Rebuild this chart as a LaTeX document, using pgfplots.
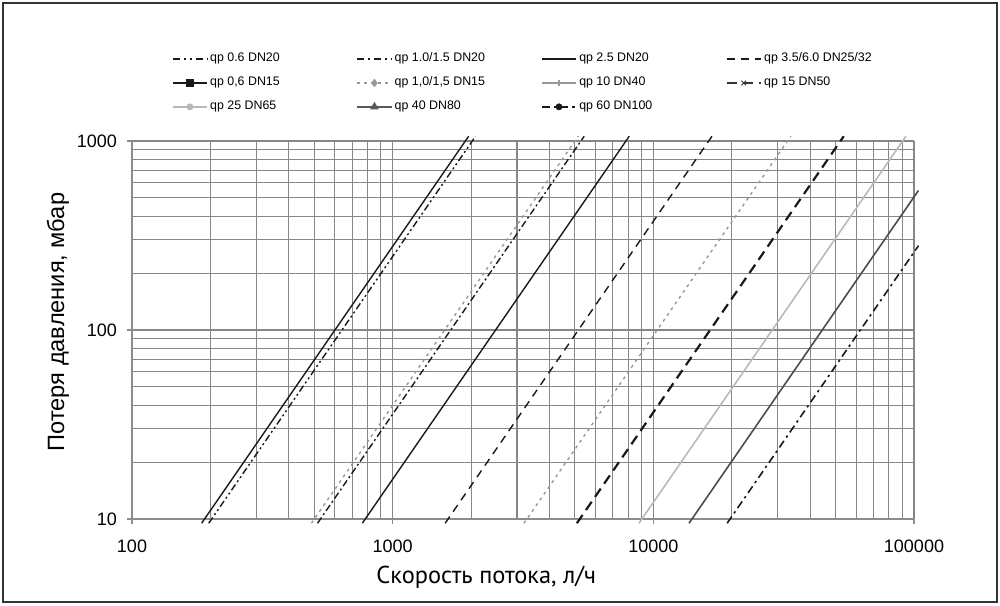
\documentclass[border=0pt]{standalone}
\usepackage{fontspec}
\setmainfont{Liberation Sans}
\newfontfamily\xlabfont{PT Sans}
\usepackage{pgfplots}
\pgfplotsset{compat=1.18}
\begin{document}
\begin{tikzpicture}
\useasboundingbox (0,0) rectangle (500pt,302.5pt);
\draw[line width=0.75pt, black!80] (1.5pt,1.5pt) rectangle (498.5pt,301pt);
\begin{axis}[
  at={(66pt,43pt)}, anchor=south west,
  scale only axis, width=391pt, height=189pt,
  xmode=log, ymode=log,
  xmin=100, xmax=100000, ymin=10, ymax=1000,
  xtick={100,1000,10000,100000}, xticklabels={100,1000,10000,100000},
  ytick={10,100,1000}, yticklabels={10,100,1000},
  minor xtick={200,300,400,500,600,700,800,900,2000,3000,4000,5000,6000,7000,8000,9000,20000,30000,40000,50000,60000,70000,80000,90000},
  minor ytick={20,30,40,50,60,70,80,90,200,300,400,500,600,700,800,900},
  grid=both,
  major grid style={gray!95, line width=0.55pt},
  minor grid style={gray!95, line width=0.55pt},
  axis x line*=bottom, axis y line*=left,
  axis line style={gray!90, line width=0.6pt, -},
  tick style={gray!90, line width=0.6pt},
  tick align=outside, major tick length=2.5pt, minor tick length=0pt,
  tick label style={font=\fontsize{9}{10}\selectfont},
  xticklabel style={yshift=-4.5pt},
  yticklabel style={xshift=-1.5pt},
  xlabel={\xlabfont Скорость потока, л/ч},
  ylabel={Потеря давления, мбар},
  xlabel style={at={(axis description cs:0.453,-0.153)}, anchor=center, font=\fontsize{12.2}{14}\selectfont},
  ylabel style={at={(axis description cs:-0.0946,0.521)}, anchor=center, font=\fontsize{11.8}{14}\selectfont},
  clip=false,
  legend columns=4,
  legend cell align=left,
  legend style={at={(axis description cs:0.043,1.255)}, anchor=north west, draw=none, fill=none,
    font=\fontsize{6.2}{7.2}\selectfont, row sep=2pt,
    nodes={inner xsep=1.2pt},
    /tikz/every even column/.append style={column sep=0pt}},
]
% --- data lines ---
\addplot[forget plot, black!90, line width=0.7pt] coordinates {(185,9.5) (1957,1060)};
\addplot[forget plot, black!90, line width=0.7pt, dash pattern=on 3.5pt off 1.5pt on 1pt off 1.5pt on 1pt off 1.5pt] coordinates {(197,9.5) (2080,1060)};
\addplot[forget plot, gray!80, line width=0.7pt, dash pattern=on 1.5pt off 2pt] coordinates {(488,9.5) (5150,1060)};
\addplot[forget plot, black!90, line width=0.7pt, dash pattern=on 3.5pt off 1.5pt on 1pt off 1.5pt] coordinates {(515,9.5) (5430,1060)};
\addplot[forget plot, black!90, line width=0.7pt] coordinates {(765,9.5) (8085,1060)};
\addplot[forget plot, black!90, line width=0.7pt, dash pattern=on 4pt off 3pt] coordinates {(1590,9.5) (16790,1060)};
\addplot[forget plot, gray!80, line width=0.7pt, dash pattern=on 1.5pt off 2pt] coordinates {(3190,9.5) (33680,1060)};
\addplot[forget plot, black!90, line width=1.1pt, dash pattern=on 5pt off 3pt] coordinates {(5090,9.5) (53770,1060)};
\addplot[forget plot, gray!55, line width=0.8pt] coordinates {(8810,9.5) (93110,1060)};
\addplot[forget plot, black!70, line width=0.8pt] coordinates {(13710,9.5) (104000,547)};
\addplot[forget plot, black!90, line width=0.8pt, dash pattern=on 4pt off 2pt on 1.2pt off 2pt] coordinates {(19200,9.5) (104000,279)};
% --- legend ---
\addlegendimage{black!90, line width=0.7pt, dash pattern=on 3.5pt off 2pt on 1pt off 2pt on 1pt off 2pt}
\addlegendentry{\makebox[72pt][l]{qp 0.6 DN20}}
\addlegendimage{black!90, line width=0.7pt, dash pattern=on 3.5pt off 2pt on 1pt off 2pt}
\addlegendentry{\makebox[72pt][l]{qp 1.0/1.5 DN20}}
\addlegendimage{black!90, line width=0.7pt}
\addlegendentry{\makebox[72pt][l]{qp 2.5 DN20}}
\addlegendimage{black!90, line width=0.7pt, dash pattern=on 4pt off 3pt}
\addlegendentry{\makebox[72pt][l]{qp 3.5/6.0 DN25/32}}
\addlegendimage{black!90, line width=0.8pt, mark=square*, mark size=1.4pt, mark options={solid}}
\addlegendentry{\makebox[72pt][l]{qp 0,6 DN15}}
\addlegendimage{gray!80, line width=0.7pt, dash pattern=on 1.5pt off 2pt, mark=diamond*, mark size=1.6pt, mark options={solid}}
\addlegendentry{\makebox[72pt][l]{qp 1,0/1,5 DN15}}
\addlegendimage{gray!80, line width=0.6pt, mark=+, mark size=1.6pt, mark options={solid}}
\addlegendentry{\makebox[72pt][l]{qp 10 DN40}}
\addlegendimage{black!80, line width=1pt, dash pattern=on 5pt off 3pt, mark=x, mark size=1.6pt, mark options={solid, line width=0.5pt}}
\addlegendentry{\makebox[72pt][l]{qp 15 DN50}}
\addlegendimage{gray!55, line width=0.8pt, mark=*, mark size=1.3pt, mark options={solid}}
\addlegendentry{\makebox[72pt][l]{qp 25 DN65}}
\addlegendimage{black!65, line width=0.8pt, mark=triangle*, mark size=1.7pt, mark options={solid}}
\addlegendentry{\makebox[72pt][l]{qp 40 DN80}}
\addlegendimage{black!90, line width=0.8pt, dash pattern=on 4pt off 2pt on 1.2pt off 2pt, mark=*, mark size=1.3pt, mark options={solid}}
\addlegendentry{\makebox[72pt][l]{qp 60 DN100}}
\end{axis}
\end{tikzpicture}
\end{document}
